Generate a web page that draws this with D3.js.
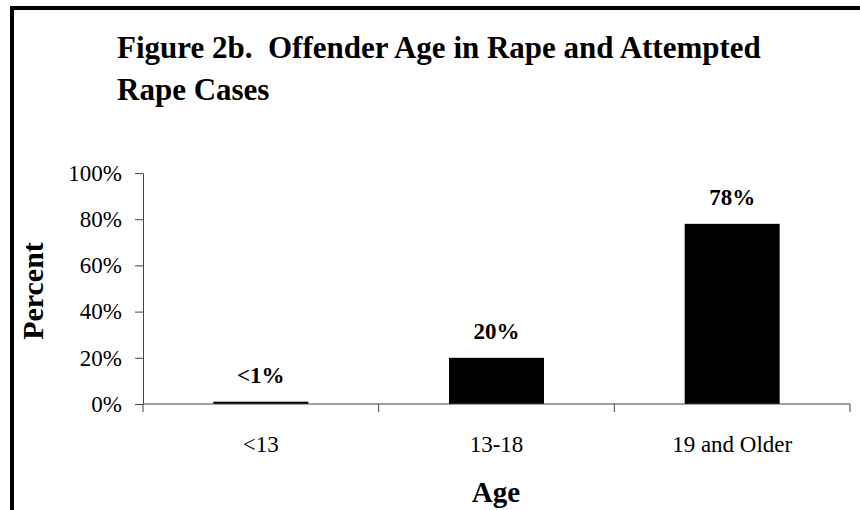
<!DOCTYPE html>
<html>
<head>
<meta charset="utf-8">
<script src="https://cdn.jsdelivr.net/npm/d3@7/dist/d3.min.js"></script>
<style>
  html, body { margin: 0; padding: 0; background: #fff; }
  svg { display: block; font-family: "Liberation Serif", "Times New Roman", serif; }
</style>
</head>
<body>
<svg id="chart" width="860" height="510"></svg>
<script>
const categories = ["<13", "13-18", "19 and Older"];
const values = [1, 20, 78];
const valueLabels = ["<1%", "20%", "78%"];
const yTicks = [0, 20, 40, 60, 80, 100];
const titleLines = ["Figure 2b.  Offender Age in Rape and Attempted", "Rape Cases"];
const xTitle = "Age";
const yTitle = "Percent";

const svg = d3.select("#chart");

// frame (left and top border)
svg.append("line").attr("x1", 12).attr("x2", 12).attr("y1", 6).attr("y2", 510)
  .attr("stroke", "#000").attr("stroke-width", 4);
svg.append("line").attr("x1", 10).attr("x2", 860).attr("y1", 8).attr("y2", 8)
  .attr("stroke", "#000").attr("stroke-width", 4);

// title
svg.append("text")
  .attr("font-size", 31).attr("font-weight", "bold")
  .style("white-space", "pre")
  .selectAll("tspan").data(titleLines).join("tspan")
  .attr("x", 117).attr("y", (d, i) => 58 + i * 42)
  .text(d => d);

const x = d3.scaleBand().domain(categories).range([143, 850]).paddingInner(0.597).paddingOuter(0.2985);
const xOuter = d3.scaleBand().domain(categories).range([143, 850]);
const y = d3.scaleLinear().domain([0, 100]).range([404, 173]);

// bars
svg.append("g").selectAll("rect").data(values).join("rect")
  .attr("x", (d, i) => x(categories[i]))
  .attr("width", x.bandwidth())
  .attr("y", d => y(d))
  .attr("height", d => y(0) - y(d))
  .attr("fill", "#000");

// y axis
const yAxis = svg.append("g").attr("transform", "translate(143,0)")
  .call(d3.axisLeft(y).tickValues(yTicks).tickFormat(d => d + "%").tickSize(8).tickSizeOuter(0).tickPadding(13));
yAxis.select(".domain").attr("stroke", "#444");
yAxis.selectAll(".tick line").attr("stroke", "#444");
yAxis.selectAll(".tick text").attr("font-size", 23).attr("fill", "#000")
  .attr("font-family", "Liberation Serif, Times New Roman, serif");

// x axis
const xAxisG = svg.append("g").attr("transform", "translate(0,404)");
xAxisG.append("line").attr("x1", 143).attr("x2", 850).attr("y1", 0).attr("y2", 0).attr("stroke", "#444");
const bounds = [143].concat(categories.map(c => xOuter(c) + xOuter.bandwidth()));
xAxisG.selectAll("line.tk").data(bounds).join("line").attr("class", "tk")
  .attr("x1", d => d).attr("x2", d => d).attr("y1", 0).attr("y2", 8).attr("stroke", "#444");
xAxisG.selectAll("text").data(categories).join("text")
  .attr("x", d => xOuter(d) + xOuter.bandwidth() / 2)
  .attr("y", 48)
  .attr("text-anchor", "middle")
  .attr("font-size", 23)
  .text(d => d);

// value labels
svg.append("g").selectAll("text").data(values).join("text")
  .attr("x", (d, i) => x(categories[i]) + x.bandwidth() / 2)
  .attr("y", d => y(d) - 19)
  .attr("text-anchor", "middle")
  .attr("font-size", 23).attr("font-weight", "bold")
  .text((d, i) => valueLabels[i]);

// axis titles
svg.append("text").attr("x", 496).attr("y", 502).attr("text-anchor", "middle")
  .attr("font-size", 29).attr("font-weight", "bold").text(xTitle);
svg.append("text").attr("transform", "translate(43,291) rotate(-90)").attr("text-anchor", "middle")
  .attr("font-size", 30).attr("font-weight", "bold").text(yTitle);
</script>
</body>
</html>
